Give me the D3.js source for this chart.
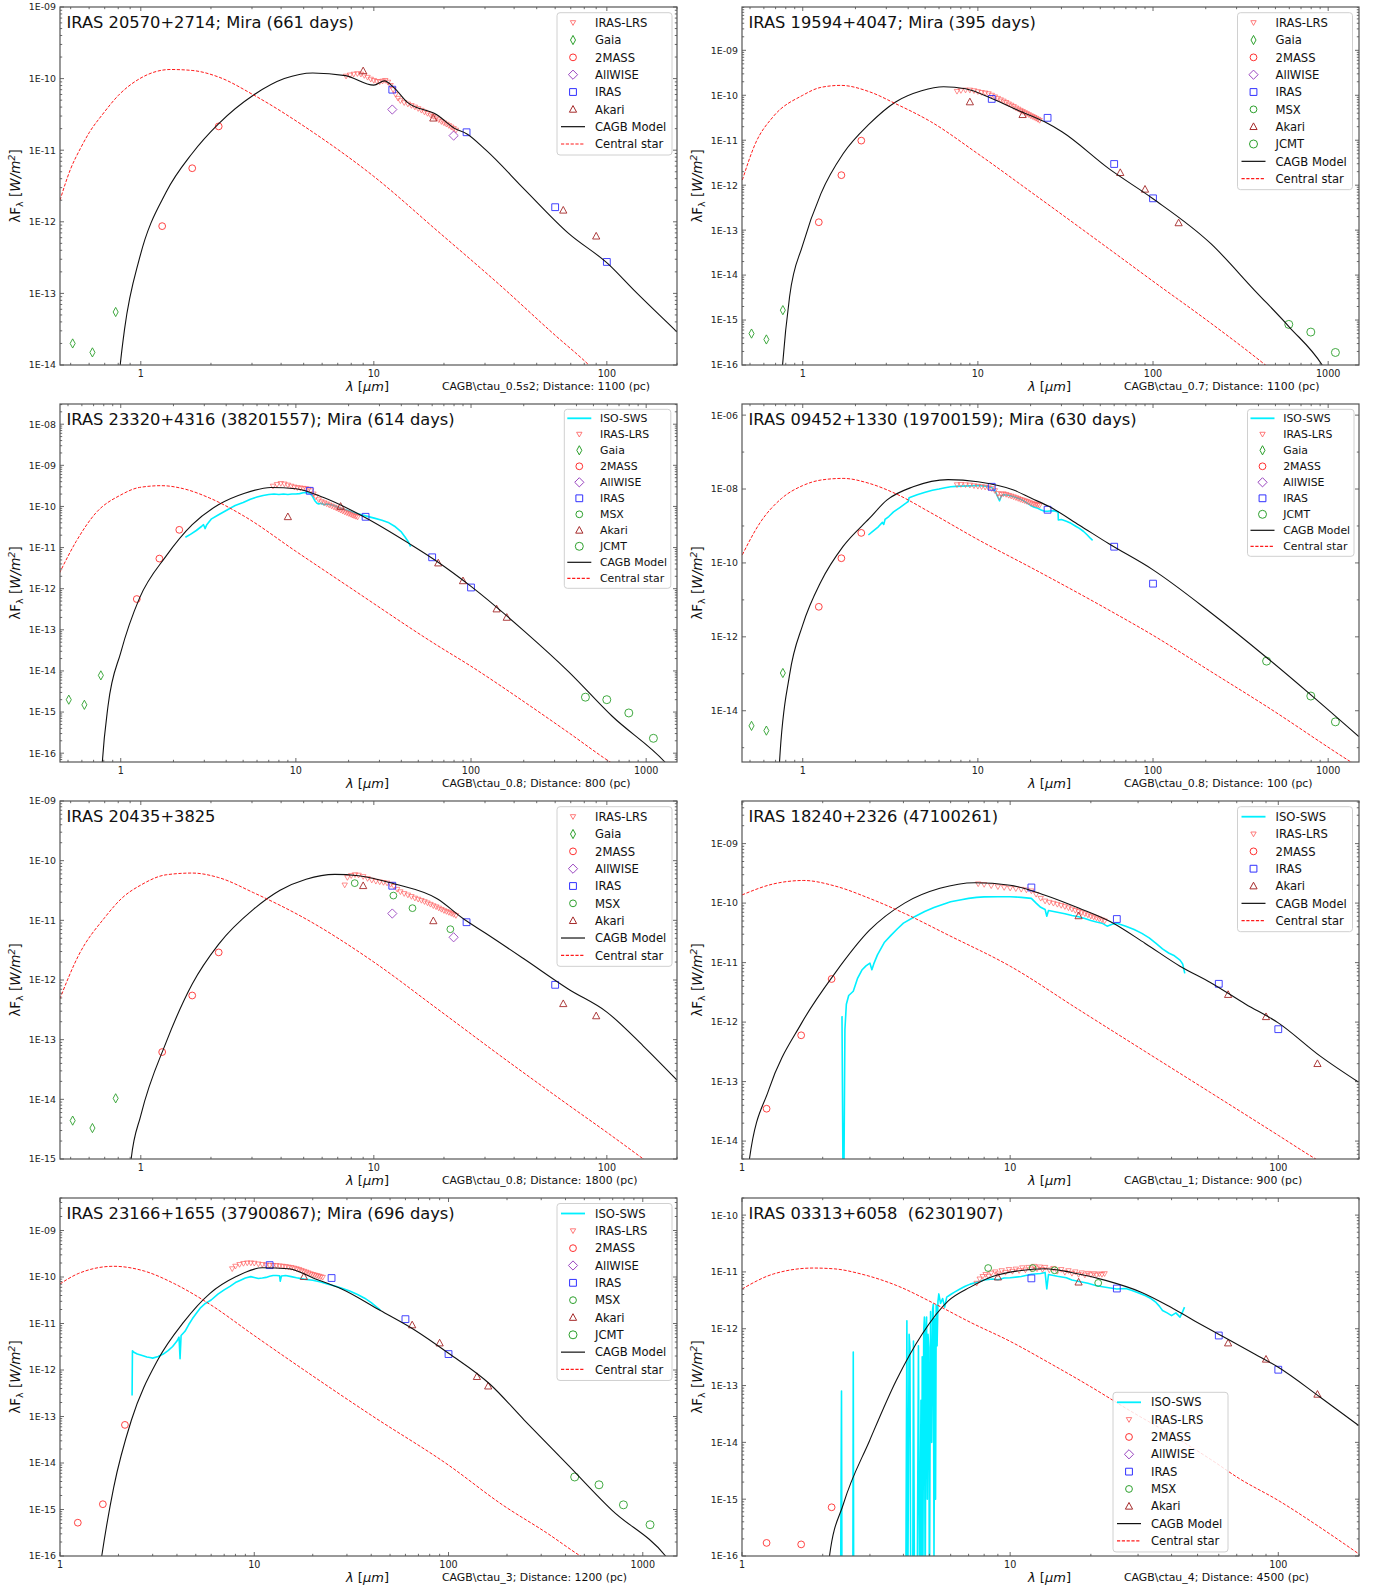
<!DOCTYPE html>
<html><head><meta charset="utf-8">
<script src="https://cdn.jsdelivr.net/npm/d3@7"></script>
<style>body{margin:0;background:#fff;} svg{font-family:"DejaVu Sans",sans-serif;} text{white-space:pre;}</style>
</head><body><svg id="c" width="1373" height="1591"></svg>
<script>
// ---------------- DATA ----------------
const xTicksA = [1, 10, 100];
const xTicksB = [1, 10, 100, 1000];
const yTicks1 = [1e-14, 1e-13, 1e-12, 1e-11, 1e-10, 1e-9];
const yTicks2 = [1e-16, 1e-15, 1e-14, 1e-13, 1e-12, 1e-11, 1e-10, 1e-9];
const yTicks3 = [1e-16, 1e-15, 1e-14, 1e-13, 1e-12, 1e-11, 1e-10, 1e-9, 1e-8];
const yTicks4 = [1e-14, 1e-12, 1e-10, 1e-8, 1e-6];
const yTicks5 = [1e-15, 1e-14, 1e-13, 1e-12, 1e-11, 1e-10, 1e-9];
const yTicks6 = [1e-14, 1e-13, 1e-12, 1e-11, 1e-10, 1e-9];
const yTicks7 = [1e-16, 1e-15, 1e-14, 1e-13, 1e-12, 1e-11, 1e-10, 1e-9];
const yTicks8 = [1e-16, 1e-15, 1e-14, 1e-13, 1e-12, 1e-11, 1e-10];

const titles = ["IRAS 20570+2714; Mira (661 days)", "IRAS 19594+4047; Mira (395 days)",
  "IRAS 23320+4316 (38201557); Mira (614 days)", "IRAS 09452+1330 (19700159); Mira (630 days)",
  "IRAS 20435+3825", "IRAS 18240+2326 (47100261)",
  "IRAS 23166+1655 (37900867); Mira (696 days)", "IRAS 03313+6058  (62301907)"];
const captions = ["CAGB\\ctau_0.5s2; Distance: 1100 (pc)", "CAGB\\ctau_0.7; Distance: 1100 (pc)",
  "CAGB\\ctau_0.8; Distance: 800 (pc)", "CAGB\\ctau_0.8; Distance: 100 (pc)",
  "CAGB\\ctau_0.8; Distance: 1800 (pc)", "CAGB\\ctau_1; Distance: 900 (pc)",
  "CAGB\\ctau_3; Distance: 1200 (pc)", "CAGB\\ctau_4; Distance: 4500 (pc)"];
const legendLabels = {iso:"ISO-SWS", lrs:"IRAS-LRS", gaia:"Gaia", tmass:"2MASS", wise:"AllWISE",
  iras:"IRAS", msx:"MSX", akari:"Akari", jcmt:"JCMT", model:"CAGB Model", star:"Central star"};

// Panel 1
const p1_star = [[0.45,2.0e-12],[0.5,5.5e-12],[0.55,1.05e-11],[0.6,1.75e-11],[0.687,3.2e-11],[0.8,5.8e-11],[0.99,1.0e-10],[1.34,1.34e-10],[1.66,1.3e-10],[2.16,1.05e-10],[3.05,5.9e-11],[5.6,1.7e-11],[10,4.3e-12],[18.7,7.5e-13],[35.8,1.2e-13],[60,2.6e-14],[80,1.15e-14],[90,8e-15]];
const p1_model = [[0.8,5e-15],[0.816,1e-14],[0.852,3.2e-14],[0.99,3.2e-13],[1.285,2.6e-12],[1.66,9e-12],[2.16,2.35e-11],[3.05,5.9e-11],[4.13,1.0e-10],[5.47,1.2e-10],[7.55,1.1e-10],[10.0,8.1e-11],[11.1,9.3e-11],[12.2,7.5e-11],[13.9,4.7e-11],[18.7,3.1e-11],[22.3,2.0e-11],[25,1.7e-11],[30.3,1.0e-11],[44.5,2.8e-12],[68.5,6.9e-13],[101,2.6e-13],[131,1.1e-13],[200,2.9e-14]];
const p1_lrs = [[7.6,1.08e-10],[7.9,1.12e-10],[8.2,1.15e-10],[8.5,1.17e-10],[8.8,1.15e-10],[9.1,1.1e-10],[9.4,1.04e-10],[9.7,9.8e-11],[10.0,9.4e-11],[10.3,9.1e-11],[10.6,9.0e-11],[10.9,9.2e-11],[11.2,9.4e-11],[11.5,8.9e-11],[11.8,8.0e-11],[12.1,7.0e-11],[12.4,6.0e-11],[12.7,5.3e-11],[13.0,4.9e-11],[13.5,4.6e-11],[14.0,4.4e-11],[14.5,4.2e-11],[15.0,4.0e-11],[15.5,3.8e-11],[16.0,3.6e-11],[16.5,3.4e-11],[17.0,3.25e-11],[17.5,3.1e-11],[18.0,2.95e-11],[18.5,2.8e-11],[19.0,2.65e-11],[19.5,2.5e-11],[20.0,2.4e-11],[20.5,2.3e-11],[21.0,2.2e-11],[21.5,2.1e-11],[22.0,2.0e-11],[22.5,1.9e-11]];
const p1_gaia = [[0.51,2.0e-14],[0.62,1.5e-14],[0.78,5.5e-14]];
const p1_tmass = [[1.235,8.7e-13],[1.662,5.6e-12],[2.159,2.15e-11]];
const p1_wise = [[12,3.7e-11],[22,1.6e-11]];
const p1_iras = [[12,7.0e-11],[25,1.78e-11],[60,1.6e-12],[100,2.75e-13]];
const p1_akari = [[9,1.28e-10],[18,2.8e-11],[65,1.45e-12],[90,6.3e-13]];

// Panel 2
const p2_star = [[0.452,1.3e-12],[0.537,8.5e-12],[0.676,3.3e-11],[1,1.0e-10],[1.27,1.5e-10],[1.65,1.66e-10],[2.4,1.2e-10],[3.39,6.5e-11],[5.37,2.6e-11],[10,5e-12],[21.4,5.9e-13],[56.2,3.8e-14],[100,7.3e-15],[214,8.5e-16],[425,1.1e-16],[480,7.5e-17]];
const p2_model = [[0.75,3e-17],[0.767,1e-16],[0.841,3.3e-15],[1,4.7e-14],[1.27,6.5e-13],[1.70,5e-12],[2.4,2.3e-11],[3.39,7.1e-11],[4.77,1.26e-10],[6.37,1.55e-10],[8.5,1.4e-10],[12.0,8.5e-11],[17.0,4.6e-11],[23.9,2.6e-11],[30.2,1.54e-11],[56.2,2.3e-12],[100,5e-13],[214,5e-14],[380,4.6e-15],[600,7e-16],[924,1e-16],[1000,6e-17]];
const p2_lrs = [[7.6,1.22e-10],[8.0,1.27e-10],[8.5,1.3e-10],[9.0,1.3e-10],[9.5,1.26e-10],[10.0,1.2e-10],[10.5,1.15e-10],[11.0,1.12e-10],[11.5,1.08e-10],[12.0,1.0e-10],[12.5,9.2e-11],[13.0,8.5e-11],[13.5,7.9e-11],[14.0,7.4e-11],[14.5,6.9e-11],[15.0,6.4e-11],[15.5,6.0e-11],[16.0,5.6e-11],[16.5,5.2e-11],[17.0,4.9e-11],[17.5,4.6e-11],[18.0,4.35e-11],[18.5,4.1e-11],[19.0,3.9e-11],[19.5,3.7e-11],[20.0,3.5e-11],[20.5,3.35e-11],[21.0,3.2e-11],[21.5,3.05e-11],[22.0,2.9e-11],[22.5,2.75e-11]];
const p2_gaia = [[0.51,5.0e-16],[0.62,3.7e-16],[0.77,1.66e-15]];
const p2_tmass = [[1.235,1.5e-13],[1.662,1.67e-12],[2.159,9.8e-12]];
const p2_iras = [[12,8.3e-11],[25,3.15e-11],[60,2.96e-12],[100,5.1e-13]];
const p2_akari = [[9,7.1e-11],[18,3.7e-11],[65,1.9e-12],[90,8.1e-13],[140,1.45e-13]];
const p2_jcmt = [[596,8e-16],[796,5.4e-16],[1100,1.9e-16]];

// Panel 3
const p3_star = [[0.447,2.4e-12],[0.556,1.4e-11],[0.72,6.9e-11],[1,1.9e-10],[1.28,2.9e-10],[1.71,3.2e-10],[2.28,2.7e-10],[3.22,1.6e-10],[5.1,5.7e-11],[10,8.1e-12],[20.2,1.09e-12],[64,4.2e-14],[100,1.3e-14],[202,1.75e-15],[359,3.2e-16],[622,6.1e-17],[700,4.4e-17]];
const p3_model = [[0.78,4e-17],[0.785,6.1e-17],[0.846,1.4e-15],[1,2.8e-14],[1.28,5.9e-13],[1.81,6.1e-12],[2.56,3.6e-11],[3.61,1.1e-10],[5.1,2.1e-10],[7.2,2.9e-10],[10,2.7e-10],[14.4,1.65e-10],[24.1,5.8e-11],[45.4,1.18e-11],[64,4.6e-12],[100,1.14e-12],[202,9.2e-14],[359,9.8e-15],[640,7.9e-16],[1280,6.1e-17],[1400,4e-17]];
const p3_iso = [[2.34,1.78e-11],[2.5,2.1e-11],[2.7,2.6e-11],[2.9,3.3e-11],[2.97,3.6e-11],[3.03,2.9e-11],[3.1,3.6e-11],[3.3,5.0e-11],[3.6,6.2e-11],[4.0,8.0e-11],[4.5,1.05e-10],[5.0,1.25e-10],[5.5,1.5e-10],[6.0,1.7e-10],[6.5,1.85e-10],[7.0,1.95e-10],[7.5,2.0e-10],[8.0,1.95e-10],[8.5,2.0e-10],[9.0,1.95e-10],[9.5,2.0e-10],[10.0,2.0e-10],[10.5,2.05e-10],[11.0,2.15e-10],[11.5,2.2e-10],[12.0,2.1e-10],[12.4,1.8e-10],[12.8,1.4e-10],[13.2,1.2e-10],[13.5,1.15e-10],[14.0,1.2e-10],[14.5,1.1e-10],[15.0,1.15e-10],[16.0,1.1e-10],[17.0,1.0e-10],[18.0,9.0e-11],[20.0,7.8e-11],[22.0,6.8e-11],[25.0,5.9e-11],[28.0,5.2e-11],[31.0,4.6e-11],[34.0,4.0e-11],[37.0,3.2e-11],[40.0,2.4e-11],[42.0,1.8e-11],[44.0,1.35e-11],[45.2,1.05e-11]];
const p3_lrs = [[7.4,3.1e-10],[7.8,3.4e-10],[8.2,3.6e-10],[8.6,3.5e-10],[9.0,3.3e-10],[9.4,3.1e-10],[9.8,2.95e-10],[10.2,2.85e-10],[10.6,2.8e-10],[11.0,2.75e-10],[11.4,2.7e-10],[11.8,2.6e-10],[12.2,2.4e-10],[12.6,2.0e-10],[13.0,1.7e-10],[13.5,1.45e-10],[14.0,1.3e-10],[14.5,1.22e-10],[15.0,1.15e-10],[15.5,1.08e-10],[16.0,1.02e-10],[16.5,9.6e-11],[17.0,9.1e-11],[17.5,8.6e-11],[18.0,8.1e-11],[18.5,7.7e-11],[19.0,7.3e-11],[19.5,7.0e-11],[20.0,6.7e-11],[20.5,6.4e-11],[21.0,6.1e-11],[21.5,5.9e-11],[22.0,5.7e-11],[22.5,5.5e-11]];
const p3_gaia = [[0.505,2e-15],[0.62,1.5e-15],[0.77,7.8e-15]];
const p3_tmass = [[1.235,5.6e-13],[1.662,5.4e-12],[2.159,2.7e-11]];
const p3_iras = [[12,2.4e-10],[25,5.6e-11],[60,5.8e-12],[100,1.07e-12]];
const p3_akari = [[9,5.6e-11],[18,1.0e-10],[65,4.2e-12],[90,1.55e-12],[140,3.2e-13],[160,2e-13]];
const p3_jcmt = [[450,2.3e-15],[596,2e-15],[796,9.5e-16],[1100,2.3e-16]];

// Panel 4
const p4_star = [[0.452,1.66e-10],[0.569,1.2e-9],[0.758,5.6e-9],[1,1.24e-8],[1.27,1.75e-8],[1.7,1.94e-8],[2.4,1.42e-8],[3.39,7.5e-9],[5.37,2.3e-9],[10,4.3e-10],[21.4,6.4e-11],[56,5.3e-12],[100,1.1e-12],[214,1.15e-13],[452,1.25e-14],[1350,4.1e-16],[1500,3e-16]];
const p4_model = [[0.73,1e-16],[0.737,4.1e-16],[0.841,9.3e-14],[1,2.1e-12],[1.27,3.1e-11],[1.70,2.8e-10],[2.4,1.6e-9],[3.02,5.0e-9],[4.27,1.15e-8],[6.76,1.8e-8],[10,1.58e-8],[16,9.4e-9],[20.2,5.6e-9],[25.4,3.4e-9],[38,1.05e-9],[56,3.3e-10],[100,6.5e-11],[214,4.5e-12],[452,2.6e-13],[803,2.6e-14],[1496,2.0e-15]];
const p4_iso = [[2.37,5.7e-10],[2.5,7.0e-10],[2.7,9.5e-10],[2.85,1.25e-9],[2.9,1.1e-9],[2.95,1.5e-9],[3.1,1.8e-9],[3.3,2.4e-9],[3.6,3.2e-9],[3.9,4.2e-9],[4.0,4.6e-9],[4.05,5.8e-9],[4.5,7.0e-9],[5.0,8.2e-9],[5.5,9.3e-9],[6.0,1.0e-8],[6.5,1.08e-8],[7.0,1.15e-8],[7.5,1.18e-8],[8.0,1.2e-8],[9.0,1.22e-8],[10.0,1.25e-8],[11.0,1.2e-8],[12.0,1.1e-8],[12.6,8.5e-9],[13.0,6.0e-9],[13.3,4.8e-9],[13.6,6.5e-9],[14.0,7.0e-9],[15.0,6.8e-9],[16.0,6.2e-9],[17.0,5.6e-9],[18.0,5.0e-9],[19.0,4.2e-9],[20.0,3.6e-9],[21.0,3.2e-9],[22.0,3.0e-9],[23.0,2.7e-9],[24.0,2.5e-9],[25.0,2.5e-9],[27.0,2.6e-9],[28.7,2.4e-9],[28.8,1.45e-9],[30.0,1.5e-9],[32.0,1.35e-9],[34.0,1.18e-9],[36.0,1.0e-9],[38.0,8.6e-10],[40.0,7.2e-10],[42.0,5.8e-10],[44.0,4.6e-10],[45.2,4.1e-10]];
const p4_lrs = [[7.6,1.3e-8],[8.0,1.32e-8],[8.5,1.3e-8],[9.0,1.27e-8],[9.5,1.22e-8],[10.0,1.18e-8],[10.5,1.15e-8],[11.0,1.12e-8],[11.5,1.08e-8],[12.0,1.02e-8],[12.5,9.0e-9],[13.0,7.5e-9],[13.3,6.0e-9],[13.6,7.2e-9],[14.0,7.4e-9],[14.5,7.1e-9],[15.0,6.7e-9],[15.5,6.4e-9],[16.0,6.1e-9],[16.5,5.8e-9],[17.0,5.5e-9],[17.5,5.2e-9],[18.0,5.0e-9],[18.5,4.8e-9],[19.0,4.6e-9],[19.5,4.4e-9],[20.0,4.2e-9],[20.5,4.0e-9],[21.0,3.9e-9],[21.5,3.8e-9],[22.0,3.7e-9],[22.5,3.6e-9]];
const p4_gaia = [[0.51,3.9e-15],[0.62,2.9e-15],[0.77,1.05e-13]];
const p4_tmass = [[1.235,6.5e-12],[1.662,1.34e-10],[2.159,6.5e-10]];
const p4_iras = [[12,1.15e-8],[25,2.75e-9],[60,2.75e-10],[100,2.75e-11]];
const p4_jcmt = [[445,2.2e-13],[796,2.5e-14],[1100,5e-15]];

// Panel 5
const p5_star = [[0.449,4.8e-13],[0.541,2.6e-12],[0.701,1.12e-11],[0.834,2.4e-11],[1,3.9e-11],[1.285,5.8e-11],[1.66,6.2e-11],[2.16,5.2e-11],[3.05,2.9e-11],[5.12,1.05e-11],[10,2.0e-12],[18.7,3.3e-13],[35.8,5.0e-14],[68.5,8.0e-15],[100,2.8e-15],[146,9.5e-16],[160,7.3e-16]];
const p5_model = [[0.9,7e-16],[0.909,1e-15],[1,5.4e-15],[1.285,9.1e-14],[1.66,8.5e-13],[2.16,4e-12],[3.05,1.54e-11],[3.96,3.2e-11],[5.12,4.9e-11],[6.8,5.9e-11],[8.6,5.6e-11],[12.2,4.1e-11],[18.7,2.3e-11],[24.3,1.05e-11],[30.3,6.0e-12],[44.5,2.2e-12],[68.5,7e-13],[100,2.9e-13],[143,7.9e-14],[200,2.1e-14]];
const p5_lrs = [[7.5,3.9e-11],[7.7,5.2e-11],[8.0,5.6e-11],[8.3,5.8e-11],[8.6,5.7e-11],[9.0,5.4e-11],[9.4,5.0e-11],[9.8,4.7e-11],[10.2,4.5e-11],[10.6,4.4e-11],[11.0,4.3e-11],[11.4,4.2e-11],[11.8,4.0e-11],[12.2,3.7e-11],[12.6,3.3e-11],[13.0,3.0e-11],[13.5,2.8e-11],[14.0,2.65e-11],[14.5,2.5e-11],[15.0,2.35e-11],[15.5,2.25e-11],[16.0,2.15e-11],[16.5,2.05e-11],[17.0,1.95e-11],[17.5,1.85e-11],[18.0,1.75e-11],[18.5,1.68e-11],[19.0,1.6e-11],[19.5,1.52e-11],[20.0,1.45e-11],[20.5,1.4e-11],[21.0,1.35e-11],[21.5,1.3e-11],[22.0,1.25e-11],[22.5,1.2e-11]];
const p5_gaia = [[0.51,4.4e-15],[0.62,3.3e-15],[0.78,1.04e-14]];
const p5_tmass = [[1.235,6.2e-14],[1.662,5.5e-13],[2.159,2.9e-12]];
const p5_wise = [[12,1.3e-11],[22,5.2e-12]];
const p5_iras = [[12,3.8e-11],[25,9.3e-12],[60,8.3e-13]];
const p5_msx = [[8.28,4.2e-11],[12.13,2.6e-11],[14.65,1.6e-11],[21.3,7.1e-12]];
const p5_akari = [[9,3.8e-11],[18,9.8e-12],[65,4e-13],[90,2.5e-13]];

// Panel 6
const p6_star = [[1,1.37e-10],[1.31,2.1e-10],[1.70,2.4e-10],[2.22,1.94e-10],[2.99,1.2e-10],[4.04,6.7e-11],[5.88,2.9e-11],[10,8.7e-12],[18.1,1.6e-12],[31.9,3.2e-13],[56,6.5e-14],[100,1.25e-14],[135,5.3e-15],[150,4e-15]];
const p6_model = [[1.05,3e-15],[1.066,5e-15],[1.26,7.4e-14],[1.67,9.7e-13],[2.22,6.6e-12],[2.99,3.5e-11],[4.04,1.0e-10],[5.47,1.77e-10],[7.38,2.2e-10],[10,2.0e-10],[13.5,1.36e-10],[18.1,8.2e-11],[23.6,4.9e-11],[31.9,2.1e-11],[43,8.7e-12],[56,4.6e-12],[75.6,2e-12],[100,9.7e-13],[143,2.7e-13],[199,9.8e-14]];
const p6_iso = [[2.36,1.26e-12],[2.38,3e-15],[2.40,3e-15],[2.42,7.5e-13],[2.45,2.0e-12],[2.5,2.8e-12],[2.6,3.3e-12],[2.7,5.5e-12],[2.8,7.5e-12],[2.9,8.8e-12],[3.0,9.8e-12],[3.05,7.6e-12],[3.1,9.5e-12],[3.2,1.35e-11],[3.4,2.2e-11],[3.6,2.9e-11],[3.8,3.7e-11],[4.0,4.6e-11],[4.4,5.9e-11],[4.8,7.2e-11],[5.2,8.4e-11],[5.6,9.5e-11],[6.0,1.05e-10],[6.5,1.13e-10],[7.0,1.2e-10],[7.5,1.25e-10],[8.0,1.27e-10],[9.0,1.28e-10],[10.0,1.28e-10],[11.0,1.25e-10],[12.0,1.2e-10],[12.5,1.0e-10],[13.0,8.5e-11],[13.5,7.8e-11],[13.7,6.0e-11],[13.9,7.5e-11],[15.0,7.0e-11],[16.0,6.6e-11],[17.0,6.2e-11],[18.0,5.9e-11],[19.0,5.5e-11],[20.0,5.1e-11],[21.0,4.8e-11],[22.0,4.6e-11],[23.0,4.1e-11],[24.0,4.4e-11],[25.0,4.6e-11],[27.0,4.1e-11],[29.0,3.6e-11],[31.0,3.1e-11],[33.0,2.6e-11],[35.0,2.1e-11],[37.0,1.7e-11],[39.0,1.45e-11],[41.0,1.3e-11],[43.0,1.1e-11],[44.0,9.5e-12],[44.8,6.6e-12]];
const p6_lrs = [[7.6,2.1e-10],[8.0,2.05e-10],[8.5,1.95e-10],[9.0,1.88e-10],[9.5,1.82e-10],[10.0,1.78e-10],[10.5,1.74e-10],[11.0,1.7e-10],[11.5,1.66e-10],[12.0,1.6e-10],[12.5,1.4e-10],[13.0,1.2e-10],[13.5,1.08e-10],[14.0,1.03e-10],[14.5,9.9e-11],[15.0,9.5e-11],[15.5,9.1e-11],[16.0,8.7e-11],[16.5,8.3e-11],[17.0,7.9e-11],[17.5,7.5e-11],[18.0,7.2e-11],[18.5,6.9e-11],[19.0,6.6e-11],[19.5,6.3e-11],[20.0,6.0e-11],[20.5,5.8e-11],[21.0,5.6e-11],[21.5,5.4e-11],[22.0,5.2e-11],[22.5,5.0e-11]];
const p6_tmass = [[1.235,3.5e-14],[1.662,6e-13],[2.159,5.3e-12]];
const p6_iras = [[12,1.83e-10],[25,5.4e-11],[60,4.4e-12],[100,7.6e-13]];
const p6_akari = [[18,6.1e-11],[65,2.9e-12],[90,1.23e-12],[140,2.0e-13]];

// Panel 7
const p7_star = [[1,7.1e-11],[1.25,1.2e-10],[1.89,1.7e-10],[2.72,1.34e-10],[3.9,7.1e-11],[5.9,2.6e-11],[10,5.5e-12],[18.5,9.3e-13],[40.2,1.05e-13],[100,9e-15],[190,1.25e-15],[318,3.2e-16],[497,9e-17],[550,7e-17]];
const p7_model = [[1.6,5e-17],[1.64,1e-16],[1.89,3e-15],[2.33,8.3e-14],[3.18,1.62e-12],[4.33,1.07e-11],[5.9,4.4e-11],[8.07,1.02e-10],[11,1.58e-10],[15,1.5e-10],[20.5,9.2e-11],[28,5.6e-11],[44.6,1.9e-11],[67.5,7.1e-12],[100,2.3e-12],[163,5e-13],[246,8.3e-14],[414,8.9e-15],[695,9.6e-16],[1310,1e-16],[1400,7e-17]];
const p7_iso = [[2.35,2.84e-13],[2.36,2.6e-12],[2.4,2.4e-12],[2.5,2.2e-12],[2.6,2.1e-12],[2.7,2.0e-12],[2.8,1.9e-12],[2.9,1.85e-12],[3.0,1.8e-12],[3.2,1.95e-12],[3.4,2.2e-12],[3.6,2.6e-12],[3.8,3.2e-12],[4.0,4.2e-12],[4.1,5.1e-12],[4.15,1.74e-12],[4.2,5.5e-12],[4.4,6.8e-12],[4.6,9.5e-12],[4.8,1.26e-11],[5.0,1.6e-11],[5.3,2.2e-11],[5.6,2.7e-11],[6.0,3.2e-11],[6.5,4.3e-11],[7.0,5.3e-11],[7.5,6.3e-11],[8.0,7.6e-11],[8.5,8.5e-11],[9.0,9.5e-11],[9.6,1.02e-10],[10.0,9.8e-11],[10.5,9.3e-11],[11.0,9.5e-11],[11.5,9.8e-11],[12.0,1.04e-10],[12.5,1.08e-10],[13.0,1.08e-10],[13.5,1.06e-10],[13.6,8.1e-11],[13.8,1.05e-10],[14.5,1.08e-10],[15.5,1.02e-10],[16.5,9.6e-11],[18.0,9.0e-11],[20.0,8.5e-11],[22.0,7.8e-11],[24.0,7.0e-11],[26.0,6.4e-11],[28.0,5.8e-11],[31.0,5.0e-11],[34.0,4.2e-11],[37.0,3.5e-11],[40.0,2.8e-11],[43.0,2.2e-11],[44.6,1.95e-11]];
const p7_lrs = [[7.7,1.5e-10],[8.0,1.7e-10],[8.4,1.85e-10],[8.8,1.95e-10],[9.2,2.0e-10],[9.6,2.0e-10],[10.0,1.97e-10],[10.5,1.9e-10],[11.0,1.85e-10],[11.5,1.8e-10],[12.0,1.78e-10],[12.5,1.77e-10],[13.0,1.76e-10],[13.5,1.73e-10],[14.0,1.7e-10],[14.5,1.67e-10],[15.0,1.63e-10],[15.5,1.6e-10],[16.0,1.55e-10],[16.5,1.5e-10],[17.0,1.45e-10],[17.5,1.38e-10],[18.0,1.32e-10],[18.5,1.27e-10],[19.0,1.22e-10],[19.5,1.17e-10],[20.0,1.13e-10],[20.5,1.1e-10],[21.0,1.07e-10],[21.5,1.04e-10],[22.0,1.01e-10],[22.5,9.8e-11]];
const p7_tmass = [[1.235,5.2e-16],[1.662,1.3e-15],[2.159,6.6e-14]];
const p7_iras = [[12,1.8e-10],[25,9.5e-11],[60,1.24e-11],[100,2.2e-12]];
const p7_akari = [[18,1.02e-10],[65,9.3e-12],[90,3.8e-12],[140,7.2e-13],[160,4.5e-13]];
const p7_jcmt = [[446,5e-15],[595,3.4e-15],[795,1.26e-15],[1090,4.7e-16]];

// Panel 8
const p8_star = [[1,5e-12],[1.31,9.2e-12],[1.84,1.17e-11],[2.22,1.13e-11],[2.78,9.2e-12],[3.76,5.8e-12],[5.27,2.7e-12],[7.1,1.3e-12],[10,6.0e-13],[14,2.5e-13],[20,9.5e-14],[28,3.6e-14],[40,1.35e-14],[56,5.0e-15],[71.6,2.3e-15],[100,9.5e-16],[143,3.2e-16],[199,1.1e-16]];
const p8_model = [[2.1,5e-17],[2.12,1e-16],[2.39,8.3e-16],[2.99,1.07e-14],[3.76,1.23e-13],[4.7,8.1e-13],[5.88,3.1e-12],[7.1,5.4e-12],[8.6,8.3e-12],[10.8,1.05e-11],[13.5,1.14e-11],[16.9,9.8e-12],[22.7,7.1e-12],[30.8,4.4e-12],[38.5,2.6e-12],[48.4,1.4e-12],[62.9,7.1e-13],[81.6,3.6e-13],[100,2.1e-13],[143,6.3e-14],[199,2.0e-14]];
const p8_iso = [[2.33,1e-17],[2.35,8e-14],[2.36,1e-17],[2.59,1e-17],[2.60,3.9e-13],[2.61,1e-17],[4.08,1e-17],[4.12,1.38e-12],[4.15,1e-17],[4.2,8e-13],[4.23,4.7e-13],[4.26,1e-17],[4.33,1e-17],[4.36,6.1e-13],[4.4,1e-17],[4.5,1e-17],[4.55,5e-13],[4.6,1e-17],[4.65,5.5e-14],[4.68,1e-17],[4.7,3.2e-13],[4.73,1e-16],[4.76,9e-13],[4.79,1.6e-12],[4.82,1e-17],[4.86,1.2e-12],[4.88,1.6e-12],[4.91,1e-15],[4.94,8e-13],[4.97,4.7e-13],[5.0,1e-17],[5.05,2e-12],[5.1,1e-14],[5.14,2.2e-12],[5.17,2.7e-12],[5.2,1e-16],[5.24,1.5e-12],[5.27,1e-15],[5.3,2.6e-12],[5.34,5e-13],[5.38,3e-12],[5.42,4.1e-12],[5.5,2.8e-12],[5.6,3.4e-12],[5.7,2.4e-12],[5.8,3.6e-12],[6.0,4.0e-12],[6.2,4.4e-12],[6.5,5.0e-12],[6.8,5.6e-12],[7.1,6.1e-12],[7.5,6.6e-12],[8.0,7.2e-12],[8.6,7.5e-12],[9.0,7.3e-12],[9.5,7.8e-12],[10.0,7.9e-12],[11.0,8.3e-12],[12.0,9.1e-12],[13.0,9.4e-12],[13.5,9.8e-12],[13.7,5.0e-12],[13.9,9.0e-12],[15.0,8.4e-12],[16.2,7.9e-12],[17.0,7.2e-12],[18.1,6.8e-12],[19.5,6.3e-12],[21.0,5.7e-12],[23.0,5.3e-12],[25.0,5.0e-12],[27.0,5.1e-12],[28.5,4.7e-12],[30.0,4.3e-12],[32.0,3.8e-12],[33.5,3.4e-12],[35.0,2.9e-12],[36.0,2.5e-12],[37.0,2.1e-12],[38.5,1.9e-12],[40.0,1.7e-12],[41.5,1.9e-12],[43.0,1.6e-12],[44.0,2.0e-12],[44.7,2.4e-12]];
const p8_lrs = [[7.5,6.3e-12],[7.7,7.5e-12],[7.9,8.3e-12],[8.1,9.0e-12],[8.3,8.4e-12],[8.5,9.5e-12],[8.8,1.0e-11],[9.0,9.2e-12],[9.3,1.05e-11],[9.6,9.8e-12],[9.9,1.1e-11],[10.2,1.02e-11],[10.5,1.12e-11],[10.8,1.05e-11],[11.1,1.18e-11],[11.4,1.08e-11],[11.7,1.2e-11],[12.0,1.12e-11],[12.3,1.25e-11],[12.6,1.13e-11],[12.9,1.22e-11],[13.2,1.1e-11],[13.5,1.2e-11],[14.0,1.08e-11],[14.5,1.15e-11],[15.0,1.02e-11],[15.5,1.1e-11],[16.0,9.8e-12],[16.5,1.05e-11],[17.0,9.4e-12],[17.5,1.0e-11],[18.0,9.0e-12],[18.5,9.6e-12],[19.0,8.8e-12],[19.5,9.4e-12],[20.0,8.9e-12],[20.5,9.3e-12],[21.0,8.8e-12],[21.5,9.2e-12],[22.0,9.0e-12],[22.5,9.3e-12]];
const p8_tmass = [[1.235,1.7e-16],[1.662,1.6e-16],[2.159,7.2e-16]];
const p8_iras = [[12,7.7e-12],[25,5.1e-12],[60,7.6e-13],[100,1.9e-13]];
const p8_msx = [[8.28,1.17e-11],[12.13,1.17e-11],[14.65,1.07e-11],[21.3,6.4e-12]];
const p8_akari = [[9,8.1e-12],[18,6.6e-12],[65,5.6e-13],[90,2.9e-13],[140,7.0e-14]];

// ---------------- LAYOUT / STYLE ----------------
const W = 617, H = 358;
const COLX = [60, 742], ROWY = [7, 404, 801, 1198];
const LEG_A = {fs: 11.6, row: 17.33, mOff: 16, tOff: 38, w: 115};
const LEG_B = {fs: 10.9, row: 16.0, mOff: 15, tOff: 35.7, w: 106.5};

const panels = [
 {c:0, r:0, xDom:[0.45,200], yDom:[1e-14,1e-9], xT:xTicksA, yT:yTicks1, minorSub:true,
  d:{lrs:p1_lrs, gaia:p1_gaia, tmass:p1_tmass, wise:p1_wise, iras:p1_iras, akari:p1_akari, model:p1_model, star:p1_star},
  leg:{items:["lrs","gaia","tmass","wise","iras","akari","model","star"], x:557, y:12.7, st:LEG_A}},
 {c:1, r:0, xDom:[0.45,1500], yDom:[1e-16,9.2e-9], xT:xTicksB, yT:yTicks2, minorSub:true,
  d:{lrs:p2_lrs, gaia:p2_gaia, tmass:p2_tmass, iras:p2_iras, akari:p2_akari, jcmt:p2_jcmt, model:p2_model, star:p2_star},
  leg:{items:["lrs","gaia","tmass","wise","iras","msx","akari","jcmt","model","star"], x:1237.5, y:12.7, st:LEG_A}},
 {c:0, r:1, xDom:[0.45,1500], yDom:[6.1e-17,3.1e-8], xT:xTicksB, yT:yTicks3, minorSub:true,
  d:{iso:p3_iso, lrs:p3_lrs, gaia:p3_gaia, tmass:p3_tmass, iras:p3_iras, akari:p3_akari, jcmt:p3_jcmt, model:p3_model, star:p3_star},
  leg:{items:["iso","lrs","gaia","tmass","wise","iras","msx","akari","jcmt","model","star"], x:564.3, y:409.3, st:LEG_B}},
 {c:1, r:1, xDom:[0.45,1500], yDom:[4.1e-16,2.0e-6], xT:xTicksB, yT:yTicks4, minorSub:false,
  d:{iso:p4_iso, lrs:p4_lrs, gaia:p4_gaia, tmass:p4_tmass, iras:p4_iras, jcmt:p4_jcmt, model:p4_model, star:p4_star},
  leg:{items:["iso","lrs","gaia","tmass","wise","iras","jcmt","model","star"], x:1247.5, y:409.3, st:LEG_B}},
 {c:0, r:2, xDom:[0.45,200], yDom:[1e-15,1e-9], xT:xTicksA, yT:yTicks5, minorSub:true,
  d:{lrs:p5_lrs, gaia:p5_gaia, tmass:p5_tmass, wise:p5_wise, iras:p5_iras, msx:p5_msx, akari:p5_akari, model:p5_model, star:p5_star},
  leg:{items:["lrs","gaia","tmass","wise","iras","msx","akari","model","star"], x:557, y:806.7, st:LEG_A}},
 {c:1, r:2, xDom:[1,200], yDom:[5e-15,5.2e-9], xT:xTicksA, yT:yTicks6, minorSub:true,
  d:{iso:p6_iso, lrs:p6_lrs, tmass:p6_tmass, iras:p6_iras, akari:p6_akari, model:p6_model, star:p6_star},
  leg:{items:["iso","lrs","tmass","iras","akari","model","star"], x:1237.5, y:806.7, st:LEG_A}},
 {c:0, r:3, xDom:[1,1500], yDom:[1e-16,5.0e-9], xT:xTicksB, yT:yTicks7, minorSub:true,
  d:{iso:p7_iso, lrs:p7_lrs, tmass:p7_tmass, iras:p7_iras, akari:p7_akari, jcmt:p7_jcmt, model:p7_model, star:p7_star},
  leg:{items:["iso","lrs","tmass","wise","iras","msx","akari","jcmt","model","star"], x:557, y:1203.5, st:LEG_A}},
 {c:1, r:3, xDom:[1,200], yDom:[1e-16,2.0e-10], xT:xTicksA, yT:yTicks8, minorSub:true,
  d:{iso:p8_iso, lrs:p8_lrs, tmass:p8_tmass, iras:p8_iras, msx:p8_msx, akari:p8_akari, model:p8_model, star:p8_star},
  leg:{items:["iso","lrs","tmass","wise","iras","msx","akari","model","star"], x:1113, y:1392.3, st:LEG_A}},
];

const STY = {
  iso:  {kind:"line", color:"#00f0ff", width:1.6},
  model:{kind:"line", color:"#111", width:1.1},
  star: {kind:"line", color:"#ff1a1a", width:1.0, dash:"3.2,1.6"},
  lrs:  {kind:"mark", shape:"tridown", s:2.7, color:"#ff5a5a"},
  gaia: {kind:"mark", shape:"thindiamond", s:4.6, color:"#2ca02c"},
  tmass:{kind:"mark", shape:"circle", s:3.4, color:"#ff3030"},
  wise: {kind:"mark", shape:"diamond", s:4.6, color:"#9a45c0"},
  iras: {kind:"mark", shape:"square", s:3.4, color:"#3030ff"},
  msx:  {kind:"mark", shape:"circle", s:3.4, color:"#2ca02c"},
  akari:{kind:"mark", shape:"triup", s:3.8, color:"#a52a2a"},
  jcmt: {kind:"mark", shape:"circle", s:4.0, color:"#2ca02c"},
};
const DRAW_ORDER = ["iso","lrs","gaia","tmass","wise","iras","msx","akari","jcmt","model","star"];

function shapePath(shape, s) {
  switch (shape) {
    case "circle": return `M${-s},0a${s},${s} 0 1,0 ${2*s},0a${s},${s} 0 1,0 ${-2*s},0Z`;
    case "square": return `M${-s},${-s}h${2*s}v${2*s}h${-2*s}Z`;
    case "triup": return `M0,${-s}L${s*0.95},${s*0.75}L${-s*0.95},${s*0.75}Z`;
    case "tridown": return `M0,${s}L${s},${-s*0.75}L${-s},${-s*0.75}Z`;
    case "thindiamond": return `M0,${-s}L${s*0.55},0L0,${s}L${-s*0.55},0Z`;
    case "diamond": return `M0,${-s}L${s},0L0,${s}L${-s},0Z`;
  }
}
function expLabel(v) {
  const e = Math.round(Math.log10(v));
  const sgn = e < 0 ? "-" : "+";
  return "1E" + sgn + String(Math.abs(e)).padStart(2, "0");
}

const svg = d3.select("#c");
svg.append("rect").attr("width",1373).attr("height",1591).attr("fill","#fff");

panels.forEach((p, i) => {
  const x0 = COLX[p.c], y0 = ROWY[p.r];
  const x = d3.scaleLog().domain(p.xDom).range([x0, x0 + W]);
  const y = d3.scaleLog().domain(p.yDom).range([y0 + H, y0]);
  const g = svg.append("g");
  const cid = "clip" + i;
  svg.append("clipPath").attr("id", cid).append("rect").attr("x", x0).attr("y", y0).attr("width", W).attr("height", H);
  const plot = g.append("g").attr("clip-path", `url(#${cid})`);

  DRAW_ORDER.forEach(k => {
    const data = p.d[k]; if (!data) return;
    const st = STY[k];
    if (st.kind === "line") {
      const line = d3.line().x(d => x(d[0])).y(d => y(d[1]));
      if (k !== "iso") line.curve(d3.curveMonotoneX);
      plot.append("path").datum(data).attr("d", line).attr("fill","none")
        .attr("stroke", st.color).attr("stroke-width", st.width)
        .attr("stroke-dasharray", st.dash || null).attr("stroke-linejoin","round");
    } else {
      plot.selectAll(null).data(data).enter().append("path")
        .attr("d", shapePath(st.shape, st.s))
        .attr("transform", d => `translate(${x(d[0])},${y(d[1])})`)
        .attr("fill","none").attr("stroke", st.color).attr("stroke-width", k === "lrs" ? 0.8 : 1.0)
        .attr("stroke-opacity", k === "lrs" ? 0.85 : 0.9);
    }
  });

  // ticks (inward, all sides)
  const tk = g.append("g").attr("stroke","#444").attr("stroke-width",0.8);
  const lx0 = Math.floor(Math.log10(p.xDom[0])), lx1 = Math.ceil(Math.log10(p.xDom[1]));
  for (let e = lx0; e <= lx1; e++) {
    for (let m = 1; m <= 9; m++) {
      const v = m * Math.pow(10, e);
      if (v < p.xDom[0] || v > p.xDom[1]) continue;
      const len = m === 1 ? 4 : 2.2;
      const xx = x(v);
      tk.append("line").attr("x1",xx).attr("x2",xx).attr("y1",y0+H).attr("y2",y0+H-len);
      tk.append("line").attr("x1",xx).attr("x2",xx).attr("y1",y0).attr("y2",y0+len);
    }
  }
  const ly0 = Math.floor(Math.log10(p.yDom[0])), ly1 = Math.ceil(Math.log10(p.yDom[1]));
  const majorSet = new Set(p.yT.map(v => Math.round(Math.log10(v))));
  for (let e = ly0; e <= ly1; e++) {
    for (let m = 1; m <= 9; m++) {
      if (m > 1 && !p.minorSub) continue;
      const v = m * Math.pow(10, e);
      if (v < p.yDom[0] || v > p.yDom[1]) continue;
      const len = (m === 1 && majorSet.has(e)) ? 4 : 2.2;
      const yy = y(v);
      tk.append("line").attr("x1",x0).attr("x2",x0+len).attr("y1",yy).attr("y2",yy);
      tk.append("line").attr("x1",x0+W).attr("x2",x0+W-len).attr("y1",yy).attr("y2",yy);
    }
  }
  // frame
  g.append("rect").attr("x",x0).attr("y",y0).attr("width",W).attr("height",H)
    .attr("fill","none").attr("stroke","#555").attr("stroke-width",1.2);

  // tick labels
  p.xT.forEach(v => {
    g.append("text").attr("x", x(v)).attr("y", y0 + H + 11.5).attr("text-anchor","middle")
      .attr("font-size", 9.6).attr("fill","#222").text(String(v));
  });
  p.yT.forEach(v => {
    g.append("text").attr("x", x0 - 4).attr("y", y(v) + 3.4).attr("text-anchor","end")
      .attr("font-size", 9.4).attr("fill","#222").text(expLabel(v));
  });

  // axis labels
  const xl = g.append("text").attr("x", x0 + W/2 - 1).attr("y", y0 + H + 26).attr("text-anchor","middle")
    .attr("font-size", 13).attr("fill","#111");
  xl.append("tspan").attr("font-style","italic").text("λ");
  xl.append("tspan").text(" [");
  xl.append("tspan").attr("font-style","italic").text("μm");
  xl.append("tspan").text("]");

  const yl = g.append("text").attr("transform", `translate(${x0 - 40},${y0 + H/2}) rotate(-90)`)
    .attr("text-anchor","middle").attr("font-size", 13.5).attr("fill","#111");
  yl.append("tspan").text("λF");
  yl.append("tspan").attr("font-size", 9.5).attr("dy", 3).text("λ");
  yl.append("tspan").attr("dy", -3).text(" [");
  yl.append("tspan").attr("font-style","italic").text("W/m");
  yl.append("tspan").attr("font-size", 9.5).attr("dy", -5).attr("font-style","italic").text("2");
  yl.append("tspan").attr("dy", 5).text("]");

  // caption
  g.append("text").attr("x", x0 + 382).attr("y", y0 + H + 25).attr("font-size", 10.9)
    .attr("fill","#111").text(captions[i]);

  // title
  g.append("text").attr("x", x0 + 6.5).attr("y", y0 + 21.3).attr("font-size", 16.3)
    .attr("fill","#111").text(titles[i]);

  // legend
  const L = p.leg, S = L.st;
  const n = L.items.length;
  const bh = (n - 1) * S.row + (S === LEG_A ? 21 : 19);
  const lg = g.append("g");
  lg.append("rect").attr("x", L.x).attr("y", L.y).attr("width", S.w).attr("height", bh)
    .attr("rx", 3).attr("fill","#fff").attr("fill-opacity",0.85).attr("stroke","#d0d0d0").attr("stroke-width",1);
  const pad = S === LEG_A ? 10 : 9;
  L.items.forEach((k, j) => {
    const cy = L.y + pad + j * S.row;
    const mx = L.x + S.mOff;
    const st = STY[k];
    if (st.kind === "line") {
      lg.append("line").attr("x1", mx - 12).attr("x2", mx + 12).attr("y1", cy).attr("y2", cy)
        .attr("stroke", st.color).attr("stroke-width", k === "iso" ? 1.8 : 1.2)
        .attr("stroke-dasharray", st.dash || null);
    } else {
      lg.append("path").attr("d", shapePath(st.shape, st.s)).attr("transform", `translate(${mx},${cy})`)
        .attr("fill","none").attr("stroke", st.color).attr("stroke-width", k === "lrs" ? 0.8 : 1.0);
    }
    lg.append("text").attr("x", L.x + S.tOff).attr("y", cy + S.fs * 0.36).attr("font-size", S.fs)
      .attr("fill","#111").text(legendLabels[k]);
  });
});
</script>
</body></html>
